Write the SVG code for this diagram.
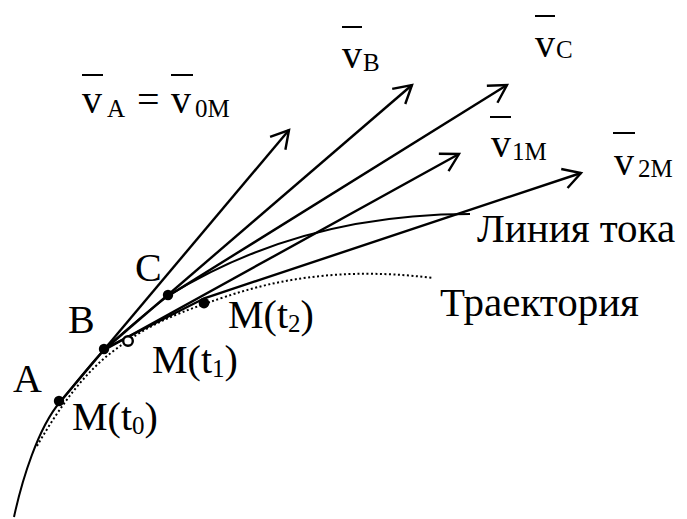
<svg xmlns="http://www.w3.org/2000/svg" width="687" height="519" viewBox="0 0 687 519" font-family="'Liberation Serif', 'Times New Roman', 'DejaVu Serif', serif">
<style>
  text { font-family: "Liberation Serif", "Times New Roman", "DejaVu Serif", serif; fill: #000; }
  .big { font-size: 40px; }
  .v { font-size: 40px; }
  .sub { font-size: 25px; }
  .arrow { fill: none; stroke: #000; stroke-width: 2.4; marker-end: url(#head); }
  .stream { fill: none; stroke: #000; stroke-width: 2; }
  .traj { fill: none; stroke: #000; stroke-width: 2; stroke-dasharray: 2 2.5; }
  .bar { stroke: #000; stroke-width: 2; }
  .dot { fill: #000; }
  .open { fill: #fff; stroke: #000; stroke-width: 2.4; }
</style>
<defs>
  <marker id="head" markerUnits="userSpaceOnUse" markerWidth="30" markerHeight="30" refX="0" refY="0" orient="auto" style="overflow:visible">
    <path d="M-17.5,-10 L0,0 L-17.5,10" fill="none" stroke="#000" stroke-width="2.4" stroke-linejoin="miter"/>
  </marker>
</defs>
<rect width="687" height="519" fill="#fff"/>

<g id="connectors">
  <path class="traj" d="M37,446 C52,420 78,378 112,352 S170,316 210,302 S320,264 433,278"/>
  <path class="stream" d="M14,517 C22,480 38,428 60,402 C75,384 93,361 105,349 C125,331 148,311 168,296 Q300,214 470,214"/>
  <path class="arrow" d="M60,402 L289,130"/>
  <path class="arrow" d="M105,349 L412,85"/>
  <path class="arrow" d="M168,296 L507,85"/>
  <path class="arrow" d="M106,349 L459,154"/>
  <path class="arrow" d="M106,348 L205,298 L581,173"/>
</g>

<g id="node-A">
  <circle class="dot" cx="59" cy="401" r="5.2"/>
  <text class="big" x="13" y="392">A</text>
  <text class="big" x="72" y="430">M(t<tspan class="sub" dy="4">0</tspan><tspan dy="-4">)</tspan></text>
</g>
<g id="node-B">
  <circle class="dot" cx="104" cy="349" r="5.2"/>
  <text class="big" x="68" y="333">B</text>
</g>
<g id="node-C">
  <circle class="dot" cx="168" cy="295" r="5.2"/>
  <text class="big" x="135" y="281">C</text>
</g>
<g id="node-Mt1">
  <circle class="open" cx="128" cy="341" r="4.8"/>
  <text class="big" x="152" y="373">M(t<tspan class="sub" dy="4">1</tspan><tspan dy="-4">)</tspan></text>
</g>
<g id="node-Mt2">
  <circle class="dot" cx="204" cy="303" r="5.4"/>
  <text class="big" x="228" y="328">M(t<tspan class="sub" dy="4">2</tspan><tspan dy="-4">)</tspan></text>
</g>

<g id="label-vA">
  <line class="bar" x1="82" y1="75" x2="103" y2="75"/>
  <line class="bar" x1="171" y1="75" x2="193" y2="75"/>
  <text class="v" x="82" y="113">v</text>
  <text class="sub" x="107" y="117">A</text>
  <text class="v" x="137" y="113">=</text>
  <text class="v" x="171" y="113">v</text>
  <text class="sub" x="195" y="117">0M</text>
</g>
<g id="label-vB">
  <line class="bar" x1="342" y1="27" x2="362" y2="27"/>
  <text class="v" x="342" y="68">v</text>
  <text class="sub" x="363" y="71">B</text>
</g>
<g id="label-vC">
  <line class="bar" x1="535" y1="16" x2="555" y2="16"/>
  <text class="v" x="535" y="57">v</text>
  <text class="sub" x="556" y="58">C</text>
</g>
<g id="label-v1M">
  <line class="bar" x1="490" y1="117" x2="511" y2="117"/>
  <text class="v" x="491" y="157">v</text>
  <text class="sub" x="512" y="160">1M</text>
</g>
<g id="label-v2M">
  <line class="bar" x1="613" y1="133" x2="635" y2="133"/>
  <text class="v" x="614" y="175">v</text>
  <text class="sub" x="638" y="177">2M</text>
</g>
<g id="label-stream">
  <text class="big" x="477" y="242" style="font-size:41px">Линия тока</text>
</g>
<g id="label-traj">
  <text class="big" x="440" y="316" style="font-size:41px">Траектория</text>
</g>
</svg>
